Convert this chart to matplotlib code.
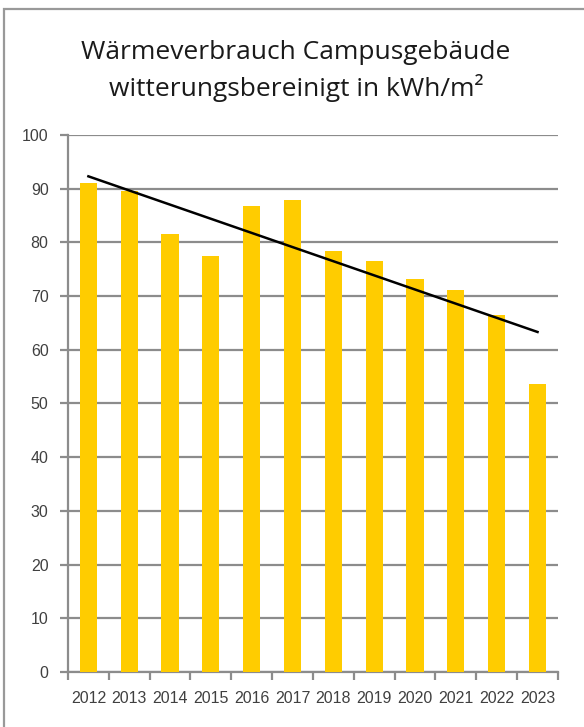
import numpy as np
import matplotlib
matplotlib.use("Agg")
import matplotlib.pyplot as plt
from matplotlib.patches import Rectangle

years = ["2012", "2013", "2014", "2015", "2016", "2017",
         "2018", "2019", "2020", "2021", "2022", "2023"]
verbrauch = [91.0, 89.6, 81.6, 77.5, 86.8, 87.8, 78.3, 76.5, 73.2, 71.1, 66.5, 53.7]
yticks = [0, 10, 20, 30, 40, 50, 60, 70, 80, 90, 100]

YELLOW = "#FFCC00"
GRID = "#8c8c8c"
TXT = "#404040"
tickfont = ["Liberation Sans", "DejaVu Sans"]

fig = plt.figure(figsize=(5.84, 7.27), dpi=100)
ax = fig.add_axes([0.1164, 0.0757, 0.839, 0.7387])

x = np.arange(len(years))
ax.bar(x, verbrauch, width=0.42, color=YELLOW, zorder=3)

# linear trend line
m, b = np.polyfit(x, verbrauch, 1)
ax.plot(x, m * x + b, color="black", lw=1.8, zorder=4)

ax.set_xlim(-0.5, len(years) - 0.5)
ax.set_ylim(0, 100)
ax.set_yticks(yticks)
ax.set_yticklabels([str(v) for v in yticks], family=tickfont, fontsize=11.5, color=TXT)
ax.yaxis.grid(True, color=GRID, lw=1.6, zorder=0)
ax.tick_params(axis="y", length=6, width=1.6, color=GRID, pad=8)

ax.set_xticks(x)
ax.set_xticklabels(years, family=tickfont, fontsize=11.5, color=TXT)
ax.tick_params(axis="x", length=0, pad=14)
ax.set_xticks(np.arange(len(years) + 1) - 0.5, minor=True)
ax.tick_params(axis="x", which="minor", length=6, width=1.6, color=GRID)

for s in ("top", "right"):
    ax.spines[s].set_visible(False)
for s in ("left", "bottom"):
    ax.spines[s].set_color(GRID)
    ax.spines[s].set_linewidth(1.6)

fig.text(0.507, 0.902, "Wärmeverbrauch Campusgebäude\nwitterungsbereinigt in kWh/m²",
         ha="center", va="center", fontsize=19, family=["Open Sans", "DejaVu Sans"],
         color="#1a1a1a", linespacing=1.4)

fig.patches.append(Rectangle((4 / 584, -0.1), 1.2, 1.1 - 9 / 727, transform=fig.transFigure,
                             fill=False, edgecolor="#999999", lw=1.6))

fig.savefig("out.png", dpi=100)
